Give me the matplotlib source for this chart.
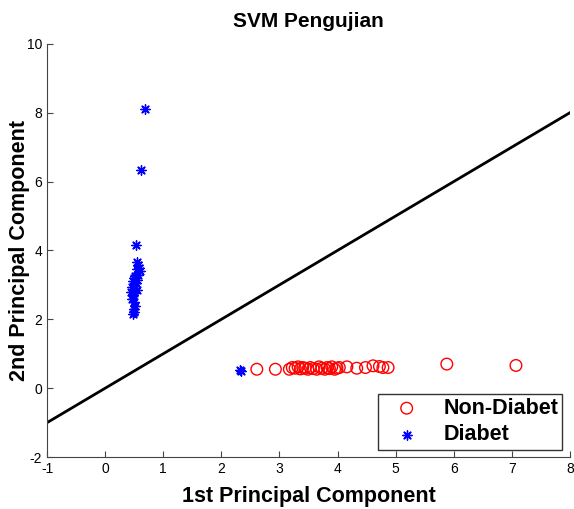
import matplotlib
matplotlib.use("Agg")
import matplotlib.pyplot as plt
import numpy as np

plt.rcParams["font.family"] = ["Liberation Sans", "DejaVu Sans"]
plt.rcParams["axes.unicode_minus"] = False

# non-diabetic samples (red circles)
non_diabet_x = [2.61, 2.93, 3.17, 3.22, 3.27, 3.32, 3.36, 3.40, 3.44, 3.49, 3.53, 3.58,
                3.64, 3.68, 3.73, 3.78, 3.82, 3.86, 3.90, 3.95, 3.99, 4.03, 4.16, 4.33,
                4.48, 4.61, 4.72, 4.78, 4.87, 5.88, 7.07]
non_diabet_y = [0.55, 0.55, 0.55, 0.60, 0.58, 0.62, 0.56, 0.60, 0.58, 0.55, 0.60, 0.57,
                0.55, 0.62, 0.58, 0.55, 0.60, 0.57, 0.62, 0.55, 0.58, 0.60, 0.62, 0.58,
                0.60, 0.65, 0.63, 0.60, 0.60, 0.70, 0.66]

# diabetic samples (blue stars)
diabet_x = [0.69, 0.62, 0.53, 0.55, 0.57, 0.58, 0.54, 0.60, 0.56, 0.52, 0.50, 0.55,
            0.48, 0.53, 0.50, 0.47, 0.52, 0.55, 0.45, 0.50, 0.48, 0.46, 0.50, 0.52,
            0.49, 0.50, 0.48, 2.32, 2.34]
diabet_y = [8.11, 6.34, 4.16, 3.65, 3.58, 3.50, 3.45, 3.40, 3.30, 3.25, 3.20, 3.15,
            3.10, 3.05, 3.00, 2.95, 2.90, 2.85, 2.80, 2.75, 2.70, 2.60, 2.50, 2.40,
            2.30, 2.20, 2.15, 0.52, 0.50]

# separating line
line_x = [-1, 8]
line_y = [-1, 8]

fig = plt.figure(figsize=(5.74, 5.09), dpi=100)
ax = fig.add_axes([0.082, 0.102, 0.911, 0.812])

ax.plot(line_x, line_y, color="black", lw=2, zorder=1)
ax.scatter(non_diabet_x, non_diabet_y, s=70, facecolors="none", edgecolors="red",
           linewidths=1.0, label="Non-Diabet", zorder=2)
ax.scatter(diabet_x, diabet_y, s=45, marker=(8, 2, 0), color="blue",
           linewidths=1.0, label="Diabet", zorder=3)

ax.set_xlim(-1, 8)
ax.set_ylim(-2, 10)
ax.set_xticks(np.arange(-1, 9, 1))
ax.set_yticks(np.arange(-2, 11, 2))
ax.spines["top"].set_visible(False)
ax.spines["right"].set_visible(False)
for s in ("left", "bottom"):
    ax.spines[s].set_color("#444444")
ax.tick_params(direction="in", length=4, labelsize=10, color="#444444")

ax.set_title("SVM Pengujian", fontsize=15, fontweight="bold", pad=12)
ax.set_xlabel("1st Principal Component", fontsize=15.5, fontweight="bold", labelpad=7.5)
ax.set_ylabel("2nd Principal Component", fontsize=15.5, fontweight="bold", labelpad=-2)

leg = ax.legend(loc="lower right", prop={"weight": "bold", "size": 15.5},
                frameon=True, fancybox=False, edgecolor="black", borderaxespad=0.35,
                handlelength=2.3, handletextpad=0.55, borderpad=0.2, labelspacing=0.25)
leg.get_frame().set_linewidth(1.0)

fig.savefig("out.png", dpi=100)
